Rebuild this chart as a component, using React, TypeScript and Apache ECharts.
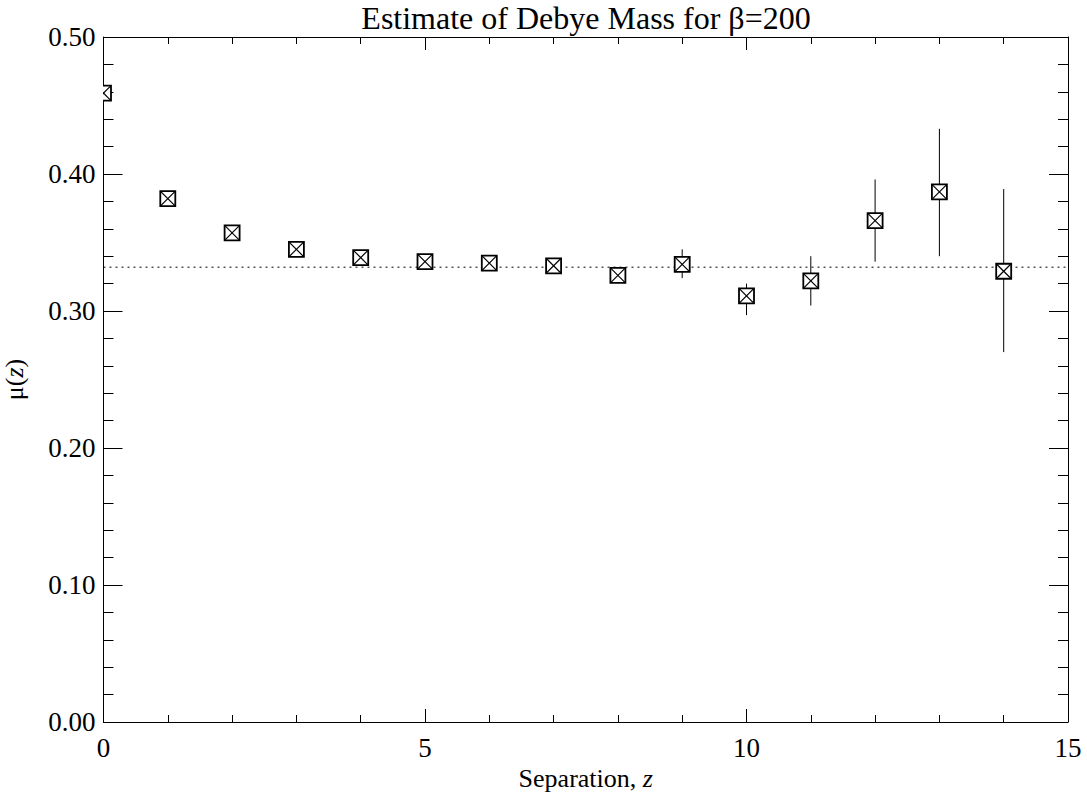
import React, { useEffect, useRef } from "react";
import * as echarts from "echarts";

const separations = [0, 1, 2, 3, 4, 5, 6, 7, 8, 9, 10, 11, 12, 13, 14];
const muValues = [0.459, 0.382, 0.357, 0.345, 0.339, 0.336, 0.335, 0.333, 0.326, 0.334, 0.311, 0.322, 0.366, 0.387, 0.329];
const upperErr = [0.460, 0.383, 0.358, 0.346, 0.340, 0.337, 0.336, 0.334, 0.328, 0.345, 0.320, 0.340, 0.396, 0.433, 0.389];
const lowerErr = [0.458, 0.381, 0.356, 0.344, 0.338, 0.335, 0.334, 0.332, 0.324, 0.324, 0.297, 0.304, 0.336, 0.340, 0.270];
const debyeFit = 0.332;
const xRange = [0, 15];
const yRange = [0, 0.5];

const FONT = "'Liberation Serif', 'Times New Roman', serif";

export default function App() {
  const ref = useRef<HTMLDivElement>(null);
  useEffect(() => {
    if (!ref.current) return;
    const chart = echarts.init(ref.current, undefined, { renderer: "svg" });
    const labelStyle = { color: "#000", fontFamily: FONT, fontSize: 27 };
    const axisLine = { show: true, onZero: false, lineStyle: { color: "#000", width: 1 } };
    const xCommon = {
      type: "value" as const,
      min: xRange[0],
      max: xRange[1],
      interval: 5,
      axisLine,
      axisTick: { show: true, inside: true, length: 13, lineStyle: { color: "#000" } },
      minorTick: { show: true, splitNumber: 5, length: 7, lineStyle: { color: "#000" } },
      splitLine: { show: false },
      minorSplitLine: { show: false },
    };
    const yCommon = {
      type: "value" as const,
      min: yRange[0],
      max: yRange[1],
      interval: 0.1,
      axisLine,
      axisTick: { show: true, inside: true, length: 19, lineStyle: { color: "#000" } },
      minorTick: { show: true, splitNumber: 5, length: 10, lineStyle: { color: "#000" } },
      splitLine: { show: false },
      minorSplitLine: { show: false },
    };
    const errData = separations.map((z, i) => [z, lowerErr[i], upperErr[i]]);
    const ptData = separations.map((z, i) => [z, muValues[i]]);
    chart.setOption({
      animation: false,
      backgroundColor: "#fff",
      title: {
        text: "Estimate of Debye Mass for β=200",
        left: 586,
        textAlign: "center",
        top: 2,
        padding: 0,
        textStyle: { color: "#000", fontFamily: FONT, fontSize: 32, lineHeight: 32, fontWeight: "normal" },
      },
      grid: { left: 103.5, right: 19, top: 37, bottom: 79, containLabel: false, outerBoundsMode: "none" },
      xAxis: [
        {
          ...xCommon,
          position: "bottom",
          axisLabel: { ...labelStyle, margin: 12 },
          name: "{a|Separation, }{b|z}",
          nameLocation: "middle",
          nameGap: 42,
          nameTextStyle: {
            rich: {
              a: { fontFamily: FONT, fontSize: 26, color: "#000" },
              b: { fontFamily: FONT, fontSize: 26, color: "#000", fontStyle: "italic" },
            },
          },
        },
        { ...xCommon, position: "top", axisLabel: { show: false } },
      ],
      yAxis: [
        {
          ...yCommon,
          position: "left",
          axisLabel: { ...labelStyle, margin: 8, formatter: (v: number) => v.toFixed(2) },
          name: "{a|μ(}{b|z}{a|)}",
          nameLocation: "middle",
          nameGap: 76,
          nameTextStyle: {
            rich: {
              a: { fontFamily: FONT, fontSize: 26, color: "#000" },
              b: { fontFamily: FONT, fontSize: 26, color: "#000", fontStyle: "italic" },
            },
          },
        },
        { ...yCommon, position: "right", axisLabel: { show: false } },
      ],
      series: [
        {
          type: "line",
          data: [[xRange[0], debyeFit], [xRange[1], debyeFit]],
          symbol: "none",
          lineStyle: { color: "#000", width: 1, type: [2, 4] },
          silent: true,
          z: 1,
        },
        {
          type: "custom",
          clip: true,
          data: errData,
          z: 2,
          renderItem: (params: any, api: any) => {
            const lo = api.coord([api.value(0), api.value(1)]);
            const hi = api.coord([api.value(0), api.value(2)]);
            return {
              type: "line",
              shape: { x1: lo[0], y1: lo[1], x2: hi[0], y2: hi[1] },
              style: { stroke: "#000", lineWidth: 1 },
            };
          },
        },
        {
          type: "custom",
          clip: true,
          data: ptData,
          z: 3,
          renderItem: (params: any, api: any) => {
            const p = api.coord([api.value(0), api.value(1)]);
            const s = 7.5;
            return {
              type: "group",
              children: [
                {
                  type: "rect",
                  shape: { x: p[0] - s, y: p[1] - s, width: 2 * s, height: 2 * s },
                  style: { fill: "#fff", stroke: "#000", lineWidth: 1.8 },
                },
                {
                  type: "line",
                  shape: { x1: p[0] - s, y1: p[1] - s, x2: p[0] + s, y2: p[1] + s },
                  style: { stroke: "#000", lineWidth: 1.2 },
                },
                {
                  type: "line",
                  shape: { x1: p[0] - s, y1: p[1] + s, x2: p[0] + s, y2: p[1] - s },
                  style: { stroke: "#000", lineWidth: 1.2 },
                },
              ],
            };
          },
        },
      ],
    });
    return () => chart.dispose();
  }, []);
  return (
    <div
      ref={ref}
      style={{ position: "fixed", left: 0, top: 0, width: 1087, height: 801, background: "#fff" }}
    />
  );
}
